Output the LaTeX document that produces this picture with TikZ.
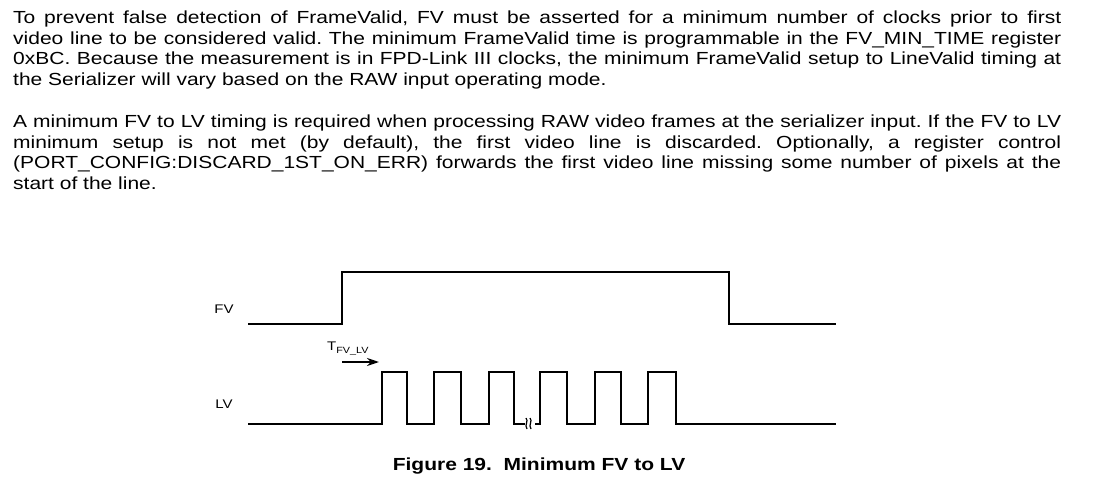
\documentclass[tikz,border=0pt]{standalone}
\usepackage{fontspec}
\setmainfont[FakeStretch=1.2]{Liberation Sans}
\usetikzlibrary{positioning,arrows.meta}

\tikzset{
    para/.style={anchor=base west, inner sep=0pt, text width=1048pt, align=justify,
        font=\fontsize{17.5}{20.5}\selectfont},
    sig/.style={anchor=base, inner sep=0pt, font=\fontsize{12.5}{14}\selectfont},
    wave/.style={line width=2.4pt, line join=miter},
}

\begin{document}
\begin{tikzpicture}[x=1pt,y=-1pt,>=Stealth]
\useasboundingbox (0,0) rectangle (1104,484);
% text above the figure
\node[para] (p1) at (13,24) {\frenchspacing\hyphenpenalty=10000 To prevent false detection of FrameValid, FV must be asserted for a minimum number of clocks prior to first\linebreak
video line to be considered valid. The minimum FrameValid time is programmable in the FV\_MIN\_TIME register\linebreak
0xBC. Because the measurement is in FPD-Link III clocks, the minimum FrameValid setup to LineValid timing at\linebreak
the Serializer will vary based on the RAW input operating mode.};
\node[para] (p2) at (13,128) {\frenchspacing\hyphenpenalty=10000 A minimum FV to LV timing is required when processing RAW video frames at the serializer input. If the FV to LV\linebreak
minimum setup is not met (by default), the first video line is discarded. Optionally, a register control\linebreak
(PORT\_CONFIG:DISCARD\_1ST\_ON\_ERR) forwards the first video line missing some number of pixels at the\linebreak
start of the line.};

% signal names
\node[sig] (fv) at (224,313) {FV};
\node[sig] (lv) at (224,408) {LV};
\node[sig, anchor=base west] (tfvlv) at (327,350)
    {T\raisebox{-3.5pt}{\fontsize{9}{10}\selectfont FV\_LV}};

% FV
\draw[wave] (248,324) -- (342,324) -- (342,272) -- (729,272) -- (729,324) -- (836,324);
% LV, first group of lines
\draw[wave] (248,424) -- (382,424) -- (382,372) -- (407,372) -- (407,424)
    -- (434,424) -- (434,372) -- (461,372) -- (461,424)
    -- (489,424) -- (489,372) -- (514,372) -- (514,424) -- (525,424);
% LV, after the break
\draw[wave] (535,424) -- (540,424) -- (540,372) -- (567,372) -- (567,424)
    -- (595,424) -- (595,372) -- (621,372) -- (621,424)
    -- (648,424) -- (648,372) -- (676,372) -- (676,424) -- (836,424);
% break mark
\draw[line width=1.2pt] (526,418) .. controls (529,421) and (524,425) .. (527,429);
\draw[line width=1.2pt] (530,418) .. controls (533,421) and (528,425) .. (531,429);

% setup time arrow
\coordinate (tfrom) at (342,362);
\coordinate (tto) at (379,362);
\draw[line width=1.6pt, -{Stealth[length=12pt,width=8pt]}] (tfrom) -- (tto);

\node[anchor=base, inner sep=0pt, font=\bfseries\fontsize{17.5}{20}\selectfont] (cap) at (539,470)
    {Figure 19.\ \ Minimum FV to LV};
\end{tikzpicture}
\end{document}
